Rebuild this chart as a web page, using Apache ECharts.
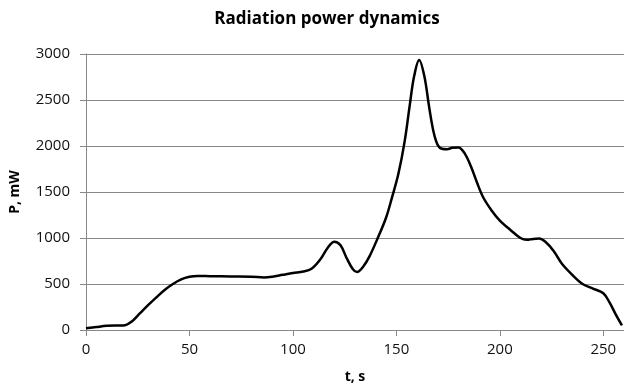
<!DOCTYPE html>
<html><head><meta charset="utf-8">
<script src="https://cdn.jsdelivr.net/npm/echarts@6/dist/echarts.min.js"></script>
<style>html,body{margin:0;padding:0;background:#fff}#c{width:624px;height:389px}</style>
</head><body><div id="c"></div>
<script>
var titleText = "Radiation power dynamics";
var xName = "t, s";
var yName = "P, mW";
var xTicks = [0,50,100,150,200,250];
var tValues = [0,5,10,14,18,22,26,30,34,38,42,46,50,54,60,70,80,86,90,95,100,105,109,113,117,120,123,126,129,131,134,137,141,145,148,151,154,156.5,158.5,161,163.5,166,168,170,172,174.5,177,180,183,186,189,192,196,200,205,210,213,216,219,222,226,230,235,240,245,250,253,256,259];
var pValues = [18,32,45,48,48,90,180,270,355,435,500,550,578,588,585,582,580,572,580,600,620,635,665,760,900,960,920,780,660,630,690,800,1000,1220,1450,1700,2050,2450,2750,2935,2760,2400,2150,2010,1970,1965,1980,1985,1920,1780,1600,1440,1300,1190,1090,1000,980,990,995,960,860,720,600,500,450,400,300,170,50];

var pts = tValues.map(function(t,i){return [t,pValues[i]];});
var font = "'Open Sans', sans-serif";
var chart = echarts.init(document.getElementById('c'), null, {renderer:'canvas'});
chart.setOption({
  animation:false,
  backgroundColor:'#fff',
  title:{text:titleText,left:322,textAlign:'center',top:6,
    textStyle:{fontFamily:font,fontSize:17,fontWeight:'bold',color:'#000'}},
  grid:{left:84,right:-4,top:54,bottom:57,containLabel:false},
  xAxis:{type:'value',min:0,max:260,interval:50,
    name:xName,nameLocation:'middle',nameGap:40,
    nameTextStyle:{fontFamily:font,fontSize:14,fontWeight:'bold',color:'#000'},
    axisLine:{show:true,lineStyle:{color:'#888',width:1}},
    axisTick:{show:true,length:6,customValues:xTicks,lineStyle:{color:'#888'}},
    axisLabel:{fontFamily:font,fontSize:15,color:'#111',margin:12,customValues:xTicks,
      formatter:function(v){return String(v);}},
    splitLine:{show:false}},
  yAxis:{type:'value',min:0,max:3000,interval:500,
    name:yName,nameLocation:'middle',nameGap:64,nameRotate:90,
    nameTextStyle:{fontFamily:font,fontSize:14,fontWeight:'bold',color:'#000'},
    axisLine:{show:true,lineStyle:{color:'#888',width:1}},
    axisTick:{show:true,length:6,lineStyle:{color:'#888'}},
    axisLabel:{fontFamily:font,fontSize:15,color:'#111',margin:16,
      formatter:function(v){return String(v);}},
    splitLine:{show:true,lineStyle:{color:'#888',width:1}}},
  series:[{type:'line',data:pts,showSymbol:false,smooth:0.35,
    lineStyle:{color:'#000',width:2.5},clip:true}]
});
</script></body></html>
